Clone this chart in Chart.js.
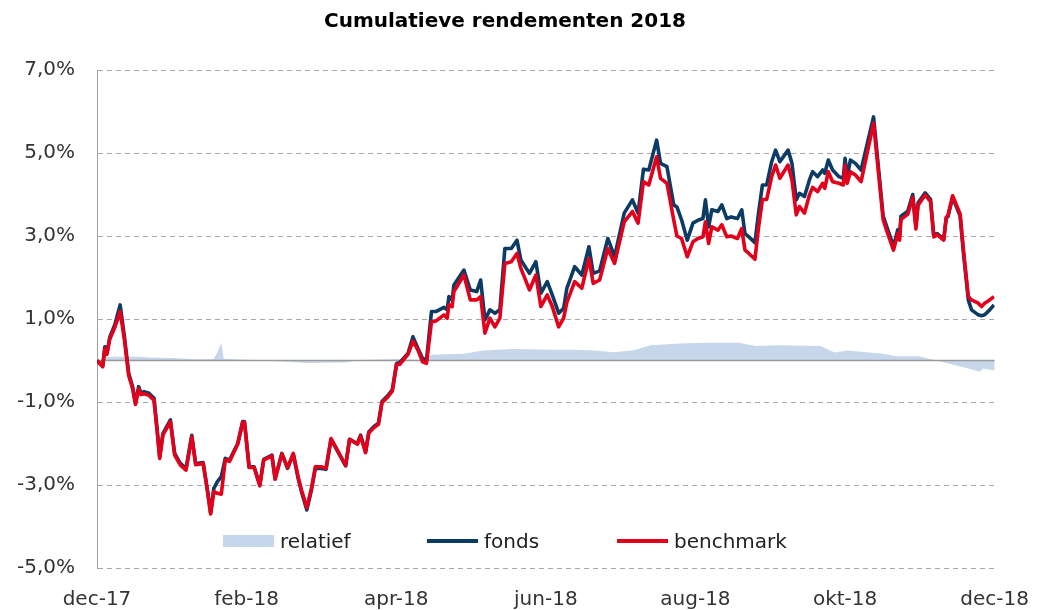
<!DOCTYPE html>
<html>
<head>
<meta charset="utf-8">
<script src="https://cdn.jsdelivr.net/npm/chart.js@4.4.1/dist/chart.umd.min.js"></script>
<style>
html,body{margin:0;padding:0;background:#fff;}
#wrap{position:relative;width:1049px;height:610px;}
canvas{display:block;}
.lg{position:absolute;font-family:"DejaVu Sans",Verdana,sans-serif;font-size:20px;color:#222;display:flex;align-items:center;height:24px;white-space:nowrap;}
.sw{display:inline-block;margin-right:6px;}
</style>
</head>
<body>
<div id="wrap"><canvas id="c" width="1049" height="610"></canvas></div>
<script>
// x-axis: trading-day index (0 = end of Dec 2017, 252 = Dec 2018)
const tickValues = [0, 42, 84, 126, 168, 210, 252];
const tickLabels = ['dec-17', 'feb-18', 'apr-18', 'jun-18', 'aug-18', 'okt-18', 'dec-18'];

const days = [
  0,1.6,2.2,2.8,3.6,5.0,6.5,7.7,8.9,10.0,
  10.8,11.7,12.3,13.2,14.6,16.0,16.9,17.6,18.5,20.6,
  21.8,23.4,25.0,26.6,27.7,29.8,31.0,31.9,32.8,33.8,
  34.9,36.0,37.2,39.5,40.9,41.4,42.7,44.1,45.7,46.8,
  49.1,50.0,51.9,53.5,55.1,56.5,57.4,58.9,60.2,61.3,
  62.9,64.3,65.7,67.1,69.8,70.9,73.1,74.0,75.4,76.3,
  77.6,79.0,80.0,81.8,82.9,84.1,85.0,87.3,88.7,90.1,
  91.4,92.5,93.9,95.1,97.4,98.3,98.8,99.7,100.2,103.0,
  104.8,106.6,107.7,108.9,110.3,111.7,113.1,114.5,116.3,117.9,
  119.0,121.4,123.2,124.6,126.4,127.8,129.6,131.0,131.9,134.1,
  136.1,138.1,139.3,141.1,143.4,145.3,148.0,150.3,151.9,153.4,
  154.9,157.1,158.2,160.0,161.9,162.8,164.1,165.7,167.3,168.7,
  170.1,170.8,171.7,172.6,174.3,175.4,176.8,178.0,179.8,181.0,
  181.9,183.0,184.7,185.7,186.8,188.0,189.4,190.5,191.7,194.0,
  195.1,196.3,197.2,198.6,200.0,200.9,202.3,203.7,204.3,205.3,
  206.5,208.3,209.5,210.0,210.6,211.5,212.9,214.5,218.0,220.7,
  221.6,223.6,224.8,225.3,225.7,227.6,229.0,229.9,230.5,232.5,
  234.0,234.9,235.9,237.7,238.4,238.9,240.2,242.3,243.2,244.6,
  245.5,247.4,248.3,249.2,250.6,251.8
];

const fonds = [
  0.00,-0.13,0.33,0.18,0.57,0.86,1.34,0.57,-0.31,-0.63,
  -1.03,-0.63,-0.78,-0.75,-0.79,-0.91,-1.67,-2.32,-1.76,-1.43,
  -2.24,-2.48,-2.60,-1.80,-2.48,-2.46,-3.12,-3.67,-3.08,-2.92,
  -2.80,-2.36,-2.40,-2.00,-1.47,-1.47,-2.56,-2.56,-3.00,-2.38,
  -2.28,-2.84,-2.24,-2.60,-2.26,-2.85,-3.16,-3.60,-3.12,-2.60,
  -2.60,-2.62,-1.90,-2.12,-2.54,-1.90,-2.00,-1.80,-2.20,-1.72,
  -1.60,-1.51,-0.99,-0.83,-0.71,-0.07,-0.05,0.17,0.57,0.29,
  0.05,0.01,1.18,1.18,1.28,1.22,1.54,1.46,1.82,2.18,
  1.70,1.66,1.94,0.98,1.22,1.14,1.22,2.70,2.70,2.90,
  2.42,2.10,2.38,1.62,1.90,1.58,1.14,1.26,1.74,2.26,
  2.06,2.74,2.10,2.16,2.94,2.50,3.55,3.87,3.55,4.61,
  4.59,5.31,4.75,4.67,3.75,3.70,3.39,2.90,3.31,3.38,
  3.42,3.87,3.22,3.63,3.59,3.75,3.42,3.46,3.42,3.63,
  3.06,2.98,2.84,3.55,4.23,4.23,4.79,5.07,4.79,5.07,
  4.75,3.87,4.03,3.95,4.35,4.55,4.43,4.59,4.51,4.83,
  4.59,4.43,4.39,4.87,4.43,4.83,4.75,4.59,5.87,3.48,
  3.25,2.75,3.15,2.99,3.48,3.60,4.00,3.24,3.80,4.04,
  3.88,3.02,3.06,2.92,3.43,3.47,3.93,3.48,2.62,1.46,
  1.22,1.10,1.08,1.10,1.22,1.34
];

const benchmark = [
  0.00,-0.15,0.28,0.15,0.52,0.80,1.18,0.50,-0.36,-0.68,
  -1.06,-0.68,-0.82,-0.80,-0.84,-0.96,-1.72,-2.36,-1.80,-1.47,
  -2.28,-2.52,-2.64,-1.84,-2.51,-2.48,-3.14,-3.70,-3.16,-3.20,
  -3.22,-2.40,-2.43,-2.02,-1.49,-1.49,-2.58,-2.58,-3.02,-2.40,
  -2.30,-2.86,-2.25,-2.58,-2.24,-2.82,-3.12,-3.55,-3.08,-2.56,
  -2.56,-2.60,-1.88,-2.10,-2.53,-1.90,-2.02,-1.82,-2.22,-1.75,
  -1.63,-1.54,-1.02,-0.86,-0.74,-0.10,-0.09,0.15,0.47,0.25,
  -0.03,-0.07,0.93,0.95,1.10,1.02,1.34,1.30,1.66,2.06,
  1.46,1.46,1.54,0.66,1.02,0.81,1.02,2.34,2.38,2.58,
  2.22,1.70,2.06,1.30,1.58,1.30,0.81,1.02,1.40,1.90,
  1.74,2.46,1.86,1.94,2.70,2.34,3.34,3.59,3.31,4.31,
  4.23,4.91,4.39,4.27,3.39,3.00,2.94,2.50,2.86,2.94,
  2.98,3.34,2.82,3.22,3.14,3.27,2.98,3.00,2.94,3.18,
  2.66,2.58,2.44,3.20,3.88,3.88,4.43,4.71,4.39,4.71,
  4.35,3.51,3.71,3.55,3.99,4.17,4.07,4.27,4.15,4.55,
  4.31,4.27,4.23,4.71,4.27,4.55,4.47,4.31,5.72,3.39,
  3.15,2.66,3.06,2.90,3.40,3.52,3.93,3.17,3.74,3.99,
  3.83,2.98,3.03,2.90,3.45,3.50,3.97,3.53,2.70,1.54,
  1.46,1.38,1.30,1.38,1.46,1.54
];

const relDays = [
  0,1.7,2.8,11.9,14.6,21.0,28.4,31.7,32.8,33.8,
  34.9,35.6,42.2,53.3,58.8,69.8,74.0,83.6,90.5,92.7,
  93.8,103.0,108.5,116.8,127.8,134.1,139.7,145.2,150.7,155.4,
  163.7,171.1,180.2,184.9,191.3,203.1,207.0,210.6,220.8,224.4,
  230.8,235.5,239.1,244.6,247.9,248.7,252.0
];
const relatief = [
  0,0.02,0.09,0.09,0.07,0.06,0.03,0.03,0.04,0.20,
  0.42,0.04,0.02,-0.03,-0.06,-0.05,0.01,0.03,0.02,0.08,
  0.14,0.16,0.24,0.28,0.26,0.26,0.24,0.20,0.25,0.37,
  0.41,0.43,0.43,0.35,0.37,0.35,0.19,0.24,0.16,0.10,
  0.10,0.00,-0.07,-0.19,-0.27,-0.19,-0.24
];

const FONT = '"DejaVu Sans", Verdana, sans-serif';
const COLORS = {
  fonds: '#0c3b63', benchmark: '#e2001a', relatief: '#c6d6eb',
  grid: '#a8a8a8', axis: '#a0a0a0', zero: '#9a9a9a', text: '#333333'
};

const toPts = (xs, ys) => xs.map((x, i) => ({ x: x, y: ys[i] }));

const zeroLine = {
  id: 'zeroLine',
  afterDatasetDraw(chart, args) {
    if (args.index !== 0) return;
    const { ctx, chartArea, scales } = chart;
    const py = scales.y.getPixelForValue(0);
    ctx.save();
    ctx.strokeStyle = COLORS.zero;
    ctx.lineWidth = 1.5;
    ctx.beginPath();
    ctx.moveTo(chartArea.left, py);
    ctx.lineTo(chartArea.right, py);
    ctx.stroke();
    ctx.restore();
  }
};

const chart = new Chart(document.getElementById('c'), {
  type: 'line',
  data: {
    datasets: [
      { label: 'relatief', data: toPts(relDays, relatief), fill: 'origin',
        backgroundColor: COLORS.relatief, borderWidth: 0, pointRadius: 0, order: 3 },
      { label: 'fonds', data: toPts(days, fonds), borderColor: COLORS.fonds,
        borderWidth: 3.6, pointRadius: 0, fill: false, order: 2, borderJoinStyle: 'round' },
      { label: 'benchmark', data: toPts(days, benchmark), borderColor: COLORS.benchmark,
        borderWidth: 3.6, pointRadius: 0, fill: false, order: 1, borderJoinStyle: 'round' }
    ]
  },
  options: {
    responsive: false,
    animation: false,
    devicePixelRatio: 1,
    events: [],
    layout: { padding: { left: 0, right: 39, top: 0, bottom: 0 } },
    plugins: {
      legend: { display: false },
      tooltip: { enabled: false },
      title: {
        display: true, text: 'Cumulatieve rendementen 2018', color: '#000',
        font: { family: FONT, size: 20, weight: 'bold' },
        padding: { top: 10, bottom: 36 }
      }
    },
    scales: {
      x: {
        type: 'linear', min: 0, max: 252,
        afterBuildTicks(s) { s.ticks = tickValues.map(v => ({ value: v })); },
        afterFit(s) { s.height = 42; },
        ticks: {
          callback: (v, i) => tickLabels[i], autoSkip: false, maxRotation: 0,
          font: { family: FONT, size: 20 }, color: COLORS.text, padding: 20
        },
        grid: { display: false, drawTicks: false },
        border: { display: false }
      },
      y: {
        min: -5, max: 7,
        afterFit(s) { s.width = 97; },
        ticks: {
          stepSize: 2, callback: v => v.toFixed(1).replace('.', ',') + '%',
          font: { family: FONT, size: 20 }, color: COLORS.text, padding: 22
        },
        grid: { color: COLORS.grid, lineWidth: 1, drawTicks: false },
        border: { display: true, color: COLORS.axis, width: 1, dash: [5, 4] }
      }
    }
  },
  plugins: [zeroLine]
});

// HTML legend built from the chart's datasets
const legendPos = { relatief: 223, fonds: 427, benchmark: 617 };
const wrap = document.getElementById('wrap');
chart.data.datasets.forEach(ds => {
  const item = document.createElement('div');
  item.className = 'lg';
  item.style.left = legendPos[ds.label] + 'px';
  item.style.top = '529px';
  const sw = document.createElement('span');
  sw.className = 'sw';
  if (ds.fill) {
    sw.style.width = '51px'; sw.style.height = '12px'; sw.style.background = ds.backgroundColor;
  } else {
    sw.style.width = '51px'; sw.style.height = '3.5px'; sw.style.background = ds.borderColor;
  }
  const tx = document.createElement('span');
  tx.textContent = ds.label;
  item.appendChild(sw);
  item.appendChild(tx);
  wrap.appendChild(item);
});
</script>
</body>
</html>
